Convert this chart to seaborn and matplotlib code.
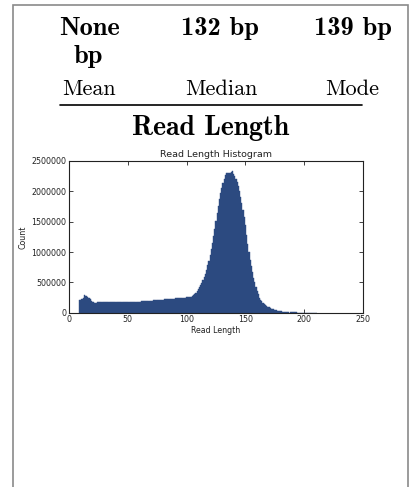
"""
Read length summary card - histogram of read lengths with mean/median/mode header.
"""

import numpy as np
import pandas as pd
import matplotlib.pyplot as plt
import seaborn as sns
from matplotlib.lines import Line2D
from matplotlib.patches import Rectangle

# ---------- DATA ----------
stat_values = ["None", "132 bp", "139 bp"]
stat_names = ["Mean", "Median", "Mode"]

# read length (bp) for each bin, starting at 9
lengths = list(range(9, 211))

# counts per read length, in thousands
counts_k = [
    # 9 - 20
    208, 212, 220, 248, 290, 283, 272, 262, 245, 222, 200, 183,
    # 21 - 40
    172, 167, 167, 169, 171, 173, 175, 177, 179, 180,
    180, 179, 178, 177, 176, 176, 175, 175, 175, 175,
    # 41 - 60
    176, 176, 176, 177, 177, 178, 178, 179, 180, 181,
    181, 181, 181, 182, 182, 182, 182, 182, 182, 182,
    # 61 - 80
    184, 185, 187, 188, 190, 192, 194, 195, 197, 199,
    201, 203, 204, 206, 208, 210, 212, 213, 215, 217,
    # 81 - 100
    219, 221, 222, 224, 226, 227, 229, 231, 232, 234,
    236, 238, 239, 241, 243, 245, 247, 248, 250, 252,
    # 101 - 120
    254, 256, 258, 263, 272, 285, 302, 325, 352, 385,
    420, 455, 495, 540, 590, 645, 705, 780, 860, 950,
    # 121 - 140
    1050, 1150, 1260, 1380, 1510, 1640, 1760, 1870, 1970, 2060,
    2140, 2210, 2270, 2300, 2300, 2310, 2305, 2320, 2330, 2290,
    # 141 - 160
    2250, 2210, 2160, 2080, 2000, 1900, 1800, 1700, 1580, 1440,
    1280, 1140, 1000, 870, 770, 670, 580, 500, 420, 350,
    # 161 - 180
    300, 250, 215, 185, 160, 140, 125, 112, 100, 88,
    78, 69, 61, 54, 47, 41, 36, 32, 28, 24,
    # 181 - 200
    21, 18, 16, 14, 12, 10, 9, 8, 7, 6,
    5, 4, 3.5, 3, 2.5, 2, 2, 1.5, 1.5, 1,
    # 201 - 210
    1, 0.8, 0.8, 0.6, 0.6, 0.5, 0.4, 0.4, 0.3, 0.3,
]

x_ticks = [0, 50, 100, 150, 200, 250]
y_ticks = [0, 500000, 1000000, 1500000, 2000000, 2500000]

df = pd.DataFrame({"length": lengths, "count": np.array(counts_k) * 1000})

# ---------- STYLE ----------
sns.set_style("white", {
    "xtick.direction": "in",
    "ytick.direction": "in",
    "axes.edgecolor": "#222222",
})
plt.rcParams["font.family"] = ["DejaVu Sans"]
plt.rcParams["xtick.top"] = True
plt.rcParams["ytick.right"] = True
plt.rcParams["xtick.bottom"] = True
plt.rcParams["ytick.left"] = True

W, H = 409, 487
fig = plt.figure(figsize=(W / 100, H / 100), dpi=100)


def fx(px):
    return px / W


def fy(py):
    return 1 - py / H


# ---------- CARD FRAME ----------
fig.add_artist(Rectangle((fx(13), fy(520)), fx(408) - fx(13), fy(5) - fy(520),
                         transform=fig.transFigure, fill=False,
                         edgecolor="#8a8a8a", linewidth=1.2))

# ---------- HEADER ----------
bold = dict(family="cmb10", fontsize=19, ha="center", va="baseline", color="black")
plain = dict(family="cmr10", fontsize=16, ha="center", va="baseline", color="black")
col_x = [89, 220, 352]

fig.text(fx(col_x[0]), fy(35), "None", **bold)
fig.text(fx(col_x[0] - 1), fy(63.5), "bp", **bold)
fig.text(fx(col_x[1]), fy(35), stat_values[1], **bold)
fig.text(fx(col_x[2] + 1), fy(35), stat_values[2], **bold)
for cx, name in zip([89, 221, 352], stat_names):
    fig.text(fx(cx), fy(95), name, **plain)

fig.add_artist(Line2D([fx(60), fx(362)], [fy(105), fy(105)],
                      transform=fig.transFigure, color="black", linewidth=1.2))
fig.text(fx(211), fy(135), "Read Length", family="cmb10", fontsize=20,
         ha="center", va="baseline", color="black")

# ---------- HISTOGRAM ----------
ax = fig.add_axes([fx(69), fy(312.7), fx(363) - fx(69), fy(161) - fy(312.7)])
sns.histplot(data=df, x="length", weights="count", discrete=True,
             color="#2c4a80", alpha=1, edgecolor="#2c4a80", linewidth=0.3,
             ax=ax)

ax.set_xlim(0, 250)
ax.set_ylim(0, 2500000)
ax.set_xticks(x_ticks)
ax.set_yticks(y_ticks)
ax.set_yticklabels([str(v) for v in y_ticks])
ax.tick_params(axis="both", labelsize=5.7, length=3, width=0.6,
               pad=2, colors="#222222", labelcolor="#222222")
ax.set_title("Read Length Histogram", fontsize=6.8, pad=3, color="#222222")
ax.set_xlabel("Read Length", fontsize=5.7, labelpad=1, color="#222222")
ax.set_ylabel("Count", fontsize=5.7, labelpad=3, color="#222222")
for s in ax.spines.values():
    s.set_linewidth(0.8)

plt.savefig("out.png", dpi=100)
plt.close()
